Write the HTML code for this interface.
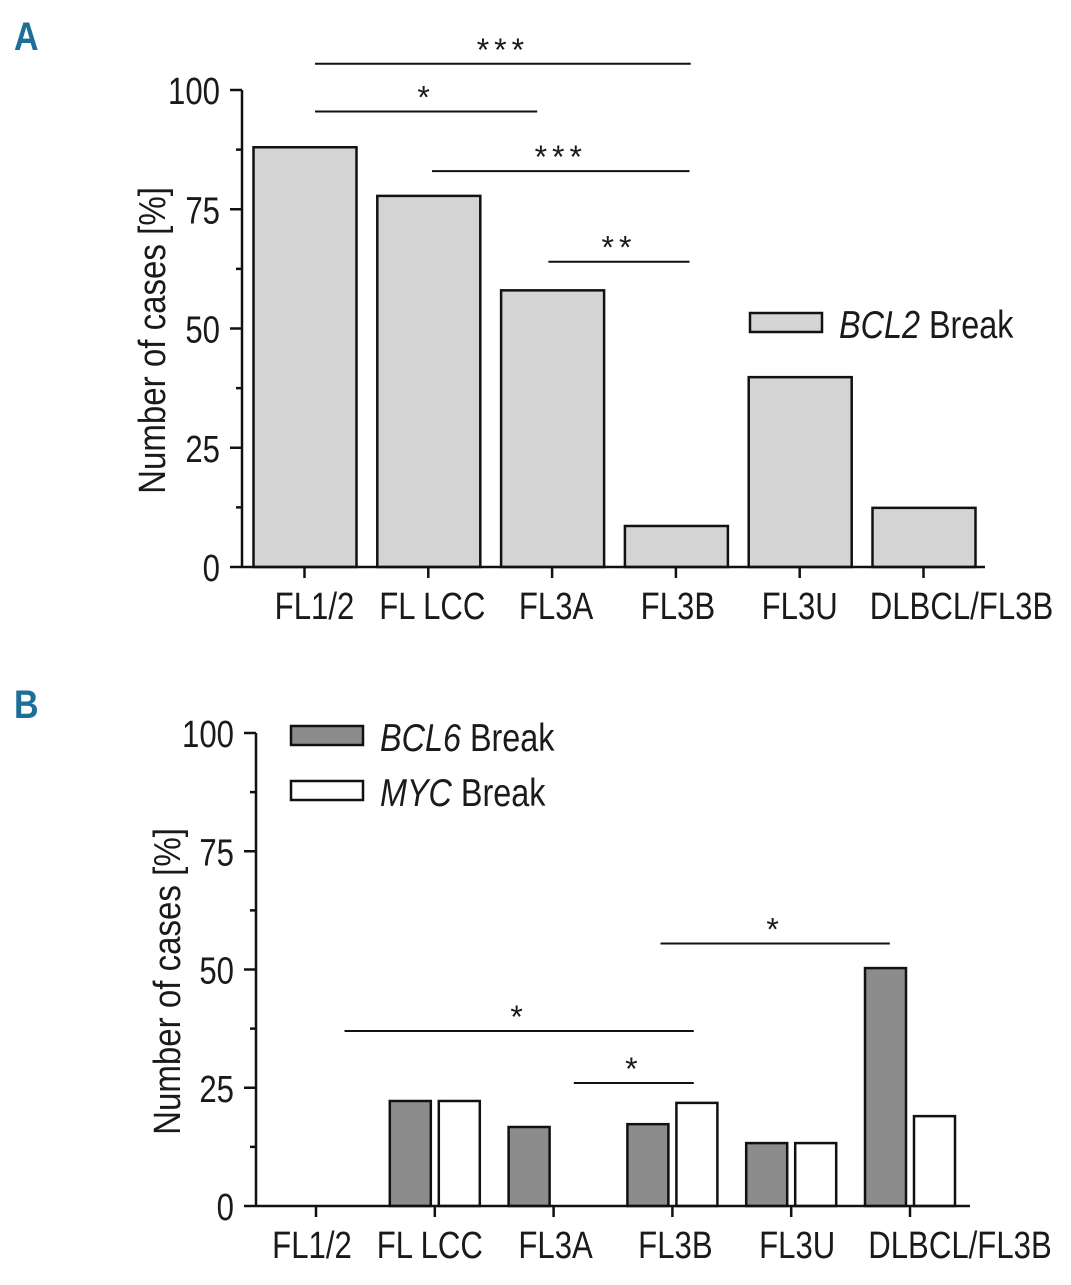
<!DOCTYPE html>
<html><head><meta charset="utf-8"><style>
body{margin:0;background:#fff;}
svg text{font-family:"Liberation Sans Narrow","Liberation Sans",sans-serif;fill:#1a1a1a;}
</style></head><body>
<svg id="chart" width="1071" height="1280" viewBox="0 0 1071 1280" xmlns="http://www.w3.org/2000/svg"></svg>
<script>
const categoriesA = ["FL1/2","FL LCC","FL3A","FL3B","FL3U","DLBCL/FL3B"];
const bcl2Values = [88,77.8,58,8.6,39.8,12.4];
const categoriesB = ["FL1/2","FL LCC","FL3A","FL3B","FL3U","DLBCL/FL3B"];
const bcl6Values = [0,22.2,16.7,17.3,13.3,50.3];
const mycValues = [0,22.2,0,21.8,13.3,19];
const yTickLabels = ["0","25","50","75","100"];
const yTickValues = [0,25,50,75,100];
// significance brackets: [from (category position), to (category position), level %, label]
const sigA = [[0.085,3.12,105.5,"***"],[0.085,1.88,95.5,"*"],[1.03,3.11,83,"***"],[1.97,3.11,64,"**"]];
const sigB = [[2.9,4.83,55.5,"*"],[0.24,3.18,37,"*"],[2.17,3.18,26,"*"]];

const NS="http://www.w3.org/2000/svg";
const svg=document.getElementById('chart');
function mk(tag,attrs,parent,text){const e=document.createElementNS(NS,tag);for(const k in attrs)e.setAttribute(k,attrs[k]);if(text!==undefined)e.textContent=text;(parent||svg).appendChild(e);return e;}
function txt(x,y,size,anchor,sx,parent,str,rot){
  const t=mk('text',{x:0,y:0,'font-size':size,'text-anchor':anchor,transform:`translate(${x},${y})${rot?' rotate(-90)':''} scale(${sx},1)`},parent,str);
  return t;
}

function panel(cfg){
  const g=mk('g',{});
  
  
  const y=v=>cfg.y0-(cfg.y0-cfg.y100)*v/100;
  const x=i=>cfg.xc0+cfg.step*i;
  cfg.series.forEach((s)=>{
    s.values.forEach((v,i)=>{
      if(v<=0)return;
      const r=mk('rect',{x:x(i)+s.offset,y:y(v),width:s.w,height:cfg.y0-y(v),fill:s.fill,stroke:'#111','stroke-width':2.5},g);
      
      
    });
  });
  const ya=mk('line',{x1:cfg.ax,y1:cfg.y100,x2:cfg.ax,y2:cfg.y0+1,stroke:'#111','stroke-width':2.5},g);
  
  
  const xa=mk('line',{x1:cfg.ax,y1:cfg.y0,x2:cfg.xEnd,y2:cfg.y0,stroke:'#111','stroke-width':2.5},g);
  
  
  for(let v=0;v<=100;v+=12.5){
    const major=v%25===0;
    mk('line',{x1:cfg.ax-(major?12:6),y1:y(v),x2:cfg.ax,y2:y(v),stroke:'#111','stroke-width':2.5},g);
  }
  yTickValues.forEach((v,i)=>{
    const t=txt(cfg.ax-22,y(v)+14,38,'end',0.82,g,yTickLabels[i]);
    
    
  });
  cfg.cats.forEach((c,i)=>{
    mk('line',{x1:x(i),y1:cfg.y0,x2:x(i),y2:cfg.y0+11,stroke:'#111','stroke-width':2.5},g);
    const t=txt(x(i)+(cfg.labelShift[i]||0),cfg.y0+52,38,'middle',0.82,g,c);
    
    
  });
  const yt=txt(cfg.titleX,(cfg.y0+cfg.y100)/2+12,38,'middle',0.87,g,'Number of cases [%]',true);
  
  
  cfg.sig.forEach(s=>{
    const x1=x(s[0]), x2=x(s[1]);
    const l=mk('line',{x1:x1,y1:y(s[2]),x2:x2,y2:y(s[2]),stroke:'#111','stroke-width':2},g);
    
    
    const t=mk('text',{x:(x1+x2)/2,y:y(s[2])-3,'font-size':32,'text-anchor':'middle','letter-spacing':5},g,s[3]);
    
    
  });
}

panel({name:'panel-a',y0:567,y100:90,ax:242,xEnd:985,xc0:304.5,step:123.8,cats:categoriesA,labelShift:[10,4,4,2,0,38],titleX:165,
  series:[{key:'bcl2',values:bcl2Values,offset:-51,w:103,fill:'#d4d4d4'}],sig:sigA});
panel({name:'panel-b',y0:1206,y100:733,ax:256,xEnd:970,xc0:316,step:118.8,cats:categoriesB,labelShift:[-4,-5,2,3,6,50],titleX:180,
  series:[{key:'bcl6',values:bcl6Values,offset:-45,w:41,fill:'#8c8c8c'},{key:'myc',values:mycValues,offset:4,w:41,fill:'#ffffff'}],sig:sigB});

const la=txt(14,50,40,'start',0.85,svg,'A');la.style.fill='#1d6f98';la.setAttribute('font-weight','bold');


const lb=txt(14,718,40,'start',0.85,svg,'B');lb.style.fill='#1d6f98';lb.setAttribute('font-weight','bold');



function legend(x,y,fill,ital,name){
  const g=mk('g',{});
  
  
  mk('rect',{x:x,y:y,width:72,height:19,fill:fill,stroke:'#111','stroke-width':2.5},g);
  const t=txt(x+89,y+25,39,'start',0.83,g);
  mk('tspan',{'font-style':'italic'},t,ital);
  mk('tspan',{},t,' Break');
}
legend(750,313,'#d4d4d4','BCL2','legend-bcl2');
legend(291,726,'#8c8c8c','BCL6','legend-bcl6');
legend(291,781,'#ffffff','MYC','legend-myc');
</script>
</body></html>
